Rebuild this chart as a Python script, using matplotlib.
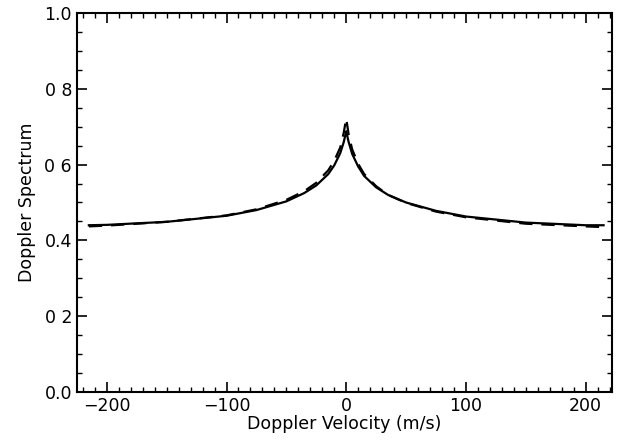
import numpy as np
import matplotlib.pyplot as plt
from matplotlib.ticker import MultipleLocator, FixedLocator

plt.rcParams['font.family'] = ['DejaVu Sans']

# doppler velocity (m/s) and spectrum
vel = [-215, -200, -150, -100, -75, -50, -35, -25, -15, -10, -5, -2, 0,
       2, 5, 10, 15, 25, 35, 50, 75, 100, 150, 200, 215]
solid = [0.440, 0.441, 0.449, 0.465, 0.480, 0.503, 0.525, 0.545, 0.575, 0.598, 0.630, 0.660, 0.688,
         0.660, 0.628, 0.595, 0.570, 0.540, 0.520, 0.500, 0.478, 0.463, 0.447, 0.440, 0.440]
dashed = [0.437, 0.439, 0.449, 0.466, 0.482, 0.507, 0.530, 0.552, 0.585, 0.610, 0.645, 0.685, 0.722,
          0.680, 0.640, 0.602, 0.575, 0.543, 0.520, 0.499, 0.476, 0.461, 0.444, 0.437, 0.435]

ytick_vals = [0.0, 0.2, 0.4, 0.6, 0.8, 1.0]
ytick_labels = ['0.0', '0 2', '0.4', '0 6', '0 8', '1.0']

fig = plt.figure(figsize=(6.2, 4.48), dpi=100)
ax = fig.add_axes([0.124, 0.125, 0.863, 0.846])

ax.plot(vel, solid, color='black', lw=1.6)
ax.plot(vel, dashed, color='black', lw=1.6, ls=(0, (6, 4)))

ax.set_xlim(-225, 222)
ax.set_ylim(0, 1.0)
ax.xaxis.set_major_locator(MultipleLocator(100))
ax.xaxis.set_minor_locator(MultipleLocator(10))
ax.yaxis.set_major_locator(FixedLocator(ytick_vals))
ax.set_yticklabels(ytick_labels)
ax.yaxis.set_minor_locator(MultipleLocator(0.05))
ax.tick_params(which='both', direction='in', top=True, right=True, labelsize=12.5)
ax.tick_params(which='major', length=7, width=1.2)
ax.tick_params(which='minor', length=3.5, width=1.0)
for s in ax.spines.values():
    s.set_linewidth(1.5)

ax.set_xlabel("Doppler Velocity (m/s)", fontsize=12.5, labelpad=0)
ax.set_ylabel("Doppler Spectrum", fontsize=12.5, labelpad=6)

fig.savefig('out.png', dpi=100)
